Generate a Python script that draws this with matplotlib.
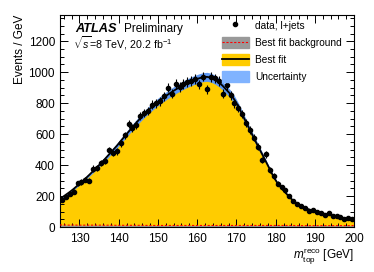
import matplotlib
matplotlib.use("Agg")
import matplotlib.pyplot as plt
import numpy as np
from matplotlib.lines import Line2D
from matplotlib.patches import Patch
from matplotlib.ticker import MultipleLocator

plt.rcParams['font.family'] = ['Liberation Sans', 'DejaVu Sans']
plt.rcParams['mathtext.fontset'] = 'custom'
plt.rcParams['mathtext.rm'] = 'Liberation Sans'
plt.rcParams['mathtext.it'] = 'Liberation Sans:italic'

# bins of 1 GeV from 125 to 200
bin_lo = 125
bin_hi = 200

fit = [190, 208, 226, 246, 268, 290, 313, 337, 362, 387,
       413, 440, 468, 496, 524, 555, 585, 615, 645, 674,
       702, 728, 753, 776, 798, 818, 837, 855, 872, 888,
       903, 917, 930, 942, 952, 961, 968, 970, 965, 952,
       935, 912, 885, 858, 822, 778, 726, 675, 624, 572,
       522, 473, 423, 373, 322, 282, 252, 222, 193, 170,
       151, 137, 124, 113, 104, 97, 91, 85, 79, 74,
       69, 63, 58, 53, 49]

data = [172, 196, 212, 228, 283, 290, 306, 300, 378, 383,
        412, 428, 497, 478, 490, 540, 592, 668, 640, 658,
        718, 735, 748, 790, 800, 812, 845, 900, 860, 925,
        905, 925, 938, 945, 958, 922, 972, 890, 968, 960,
        945, 862, 915, 850, 800, 770, 732, 670, 628, 578,
        520, 432, 470, 368, 330, 280, 258, 238, 200, 168,
        150, 138, 122, 102, 112, 98, 90, 80, 92, 72,
        70, 62, 52, 55, 50]

bkg = [13, 13, 12, 13, 12, 12, 12, 12, 12, 12,
       12, 11, 12, 11, 11, 11, 11, 11, 11, 11,
       11, 11, 10, 10, 10, 10, 10, 10, 10, 10,
       10, 10, 10, 10, 10, 10, 10, 10, 10, 10,
       10, 10, 10, 10, 10, 10, 10, 10, 10, 10,
       10, 10, 10, 10, 10, 10, 10, 10, 10, 10,
       9, 9, 9, 9, 9, 9, 9, 9, 9, 9,
       9, 9, 9, 9, 9]

unc_frac = 0.03

xc = np.arange(bin_lo, bin_hi) + 0.5
fit = np.array(fit, dtype=float)
data = np.array(data, dtype=float)
bkg = np.array(bkg, dtype=float)

# extend curves to the axis edges
xe = np.concatenate([[bin_lo], xc, [bin_hi]])
fe = np.concatenate([[fit[0] - 0.5 * (fit[1] - fit[0])], fit, [fit[-1] + 0.5 * (fit[-1] - fit[-2])]])
be = np.concatenate([[bkg[0]], bkg, [bkg[-1]]])

fig = plt.figure(figsize=(3.74, 2.72), dpi=100)
ax = fig.add_axes([0.160, 0.1654, 0.787, 0.7796])

yellow = '#ffcc00'
blue = '#5f98f2'

ax.fill_between(xe, 0, fe, color=yellow, lw=0, zorder=1)
ax.fill_between(xe, fe * (1 - unc_frac), fe * (1 + unc_frac), color=blue, lw=0, zorder=2)
ax.plot(xe, fe, color='black', lw=1.3, zorder=3)
ax.fill_between(xe, 0, be, color='#999999', lw=0, zorder=2)
ax.plot(xe, be, color='red', lw=0.8, ls=(0, (2, 1.5)), zorder=3)

ax.errorbar(xc, data, yerr=np.sqrt(data), fmt='o', color='black', ms=3.0,
            elinewidth=0.8, capsize=0, zorder=4)

ax.set_xlim(bin_lo, bin_hi)
ax.set_ylim(0, 1370)
ax.xaxis.set_major_locator(MultipleLocator(10))
ax.xaxis.set_minor_locator(MultipleLocator(2))
ax.yaxis.set_major_locator(MultipleLocator(200))
ax.yaxis.set_minor_locator(MultipleLocator(50))
ax.tick_params(which='both', direction='in', top=True, right=True, labelsize=8.5, width=0.7)
ax.tick_params(which='major', length=6)
ax.tick_params(which='minor', length=3)
ax.tick_params(axis='x', pad=4)
for s in ax.spines.values():
    s.set_linewidth(0.8)

ax.set_xlabel(r'$m_{\mathrm{top}}^{\mathrm{reco}}$ [GeV]', fontsize=8.5, loc='right')
ax.set_ylabel('Events / GeV', fontsize=8.5, loc='top')
ax.yaxis.set_label_coords(-0.114, 1.0)
ax.xaxis.set_label_coords(1.0, -0.09)

ax.text(0.054, 0.932, 'ATLAS', transform=ax.transAxes, fontsize=9.2,
        fontweight='bold', fontstyle='italic', va='center')
ax.text(0.218, 0.932, 'Preliminary', transform=ax.transAxes, fontsize=8.5, va='center')
ax.text(0.045, 0.866, r'$\sqrt{s}$=8 TeV, 20.2 fb$^{-1}$', transform=ax.transAxes,
        fontsize=7.7, va='center')

handles = [
    Line2D([], [], marker='o', color='black', ls='none', ms=3.0),
    (Patch(facecolor='#999999', edgecolor='#999999'), Line2D([], [], color='red', lw=0.8, ls=(0, (2, 1.5)))),
    (Patch(facecolor=yellow, edgecolor=yellow), Line2D([], [], color='black', lw=1.3)),
    Patch(facecolor='#80b3ff', edgecolor='#80b3ff'),
]
labels = ['data, l+jets', 'Best fit background', 'Best fit', 'Uncertainty']
ax.legend(handles, labels, loc='upper right', bbox_to_anchor=(0.982, 1.01), frameon=False,
          fontsize=7.3, handlelength=2.7, handleheight=1.3, labelspacing=0.6,
          handletextpad=0.6, borderaxespad=0.3)

fig.savefig('out.png', dpi=100)
